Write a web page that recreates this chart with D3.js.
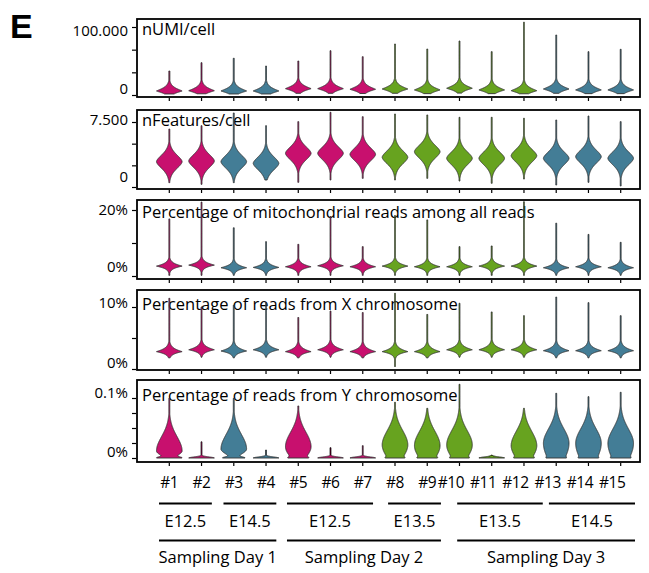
<!DOCTYPE html>
<html>
<head>
<meta charset="utf-8">
<script src="https://cdn.jsdelivr.net/npm/d3@7"></script>
<style>
  body { margin: 0; background: #fff; }
  svg { display: block; }
  text { font-family: "Open Sans", "Noto Sans", sans-serif; fill: #000; }
</style>
</head>
<body>
<svg id="chart" width="649" height="573"></svg>
<script>
// ---- samples and groupings ----
const samples = ["#1","#2","#3","#4","#5","#6","#7","#8","#9","#10","#11","#12","#13","#14","#15"];
const stages  = ["E12.5","E12.5","E14.5","E14.5","E12.5","E12.5","E12.5","E13.5","E13.5","E13.5","E13.5","E13.5","E14.5","E14.5","E14.5"];
const stageColors = { "E12.5": "#c8106e", "E13.5": "#67a31f", "E14.5": "#437d96" };
const stageGroups = [["E12.5", 0, 1], ["E14.5", 2, 3], ["E12.5", 4, 6], ["E13.5", 7, 8], ["E13.5", 9, 11], ["E14.5", 12, 14]];
const dayGroups   = [["Sampling Day 1", 0, 3], ["Sampling Day 2", 4, 8], ["Sampling Day 3", 9, 14]];

// ---- nUMI per cell ----
const umiMode = [5900, 6300, 5900, 5900, 9300, 9300, 8400, 8800, 7400, 9900, 7400, 6300, 8800, 7400, 7400];
const umiMax  = [35300, 47500, 54000, 42600, 50000, 65100, 56300, 75000, 67600, 79400, 63700, 107000, 88200, 63700, 67200];
const umiMin  = [1500, 1800, 1500, 1500, 2500, 2500, 2200, 2500, 2000, 2800, 2000, 1800, 2500, 2000, 2000];

// ---- nFeatures per cell ----
const featMode = [2920, 3000, 2920, 2730, 3890, 3890, 3770, 3430, 4070, 3310, 3310, 3610, 3310, 3500, 3310];
const featMax  = [6690, 7070, 8540, 7070, 7540, 8620, 8110, 8420, 8310, 8040, 8040, 7930, 7730, 8190, 7540];
const featMin  = [500, 310, 500, 810, 540, 810, 1000, 810, 1000, 690, 430, 920, 230, 540, 120];

// ---- mitochondrial reads (%) ----
const mitoMode = [3.0, 3.3, 2.5, 2.6, 2.8, 3.1, 2.8, 3.0, 2.8, 2.8, 3.0, 3.0, 2.5, 2.8, 2.5];
const mitoMax  = [17.3, 22.4, 14.6, 10.4, 9.6, 18.0, 8.9, 18.3, 17.0, 8.9, 9.1, 22.5, 16.0, 12.6, 10.2];
const mitoMin  = [0.2, 0.2, 0.2, 0.2, 0.2, 0.2, 0.2, 0.2, 0.2, 0.2, 0.2, 0.2, 0.2, 0.2, 0.2];

// ---- X chromosome reads (%) ----
const xMode = [2.8, 3.1, 2.9, 3.1, 2.8, 3.1, 2.8, 2.8, 2.8, 3.1, 3.1, 3.1, 2.95, 2.95, 2.95];
const xMax  = [11.4, 10.0, 10.3, 10.6, 8.3, 9.35, 9.1, 12.2, 8.8, 10.6, 9.2, 8.6, 11.6, 10.7, 8.6];
const xMin  = [1.8, 1.9, 1.8, 1.9, 1.8, 1.9, 1.8, 0.4, 1.8, 1.9, 1.9, 1.9, 1.8, 1.8, 1.8];

// ---- Y chromosome reads (%) ----
const yMode      = [0.0117, 0, 0.015, 0, 0.0188, 0, 0, 0.0217, 0.0205, 0.0217, 0, 0.0205, 0.0245, 0.0245, 0.0245];
const yMax       = [0.0995, 0.027, 0.0995, 0.0133, 0.0867, 0.0172, 0.0205, 0.0928, 0.0828, 0.1228, 0.005, 0.0828, 0.1078, 0.1022, 0.1095];
const yZeroShare = [0.4, 1, 0.4, 1, 0.2, 1, 1, 0.15, 0.15, 0.15, 1, 0.15, 0.1, 0.1, 0.1];
const yLowSpread = [0.011, 0, 0.012, 0, 0.025, 0, 0, 0.03, 0.03, 0.03, 0, 0.03, 0.04, 0.04, 0.04];

// ---- formatting ----
const deLocale = d3.formatLocale({ decimal: ",", thousands: ".", grouping: [3], currency: ["", ""] });
const fmtInt = deLocale.format(",");
const fmtPct = v => (v === 0 ? "0" : String(+v.toFixed(3))) + "%";

const kernel = (x, p) => Math.exp(-Math.pow(Math.abs(x), p));

const panels = [
  { title: "nUMI/cell", mode: umiMode, max: umiMax, min: umiMin, top: 100000,
    ticks: [0, 100000 / 3, 200000 / 3, 100000], fmt: fmtInt,
    shape: { p: 1.2, up: 5900, down: 4400 } },
  { title: "nFeatures/cell", mode: featMode, max: featMax, min: featMin, top: 7500,
    ticks: [0, 2500, 5000, 7500], fmt: fmtInt,
    shape: { p: 1.7, up: 1150, down: 1150 } },
  { title: "Percentage of mitochondrial reads among all reads", mode: mitoMode, max: mitoMax, min: mitoMin, top: 20,
    ticks: [0, 10, 20], fmt: fmtPct,
    shape: { p: 1.1, up: 0.9, down: 0.75 } },
  { title: "Percentage of reads from X chromosome", mode: xMode, max: xMax, min: xMin, top: 10,
    ticks: [0, 5, 10], fmt: fmtPct,
    shape: { p: 1.1, up: 0.56, down: 0.4 } },
  { title: "Percentage of reads from Y chromosome", mode: yMode, max: yMax, min: samples.map(() => 0), top: 0.1,
    ticks: [0, 0.025, 0.05, 0.075, 0.1], fmt: fmtPct,
    shape: { p: 2, up: 0.034, spike: 0.0025 }, zero: yZeroShare, low: yLowSpread }
];

// ---- layout ----
const svg = d3.select("#chart");
const frameLeft = 137, frameRight = 640;
const boxes = [[19, 78], [110, 79], [200, 79], [290, 80], [380, 82]];      // top, height
const yRanges = [[95, 27], [187, 122], [276, 210], [369, 307], [458, 398]]; // px of 0 and of top value
const labelShift = [[3.5, -6], [-2, -10], [0, -9], [-4, -6], [-5, -6]];     // [top label, zero label] vertical nudges
const titleDy = [16, 16, 18, 20, 21];
const halfWidth = 12.8;
// horizontal nudges [left end, right end] for the bracket rows
const stageNudge = [[0, 0], [0, 0], [-1, 0], [3.4, 3.4], [8, 8.5], [3, 4]];
const dayNudge   = [[0, 0], [-1, 3.4], [8, 4]];

const x = d3.scalePoint().domain(samples).range([169.3, 620.7]);

// panel letter
svg.append("text").attr("x", 10).attr("y", 38)
  .style("font-family", "'Liberation Sans', Arial, sans-serif")
  .style("font-weight", "bold").style("font-size", "34px").text("E");

panels.forEach((pn, pi) => {
  const [top, h] = boxes[pi];
  const bottom = top + h;
  const y = d3.scaleLinear().domain([0, pn.top]).range(yRanges[pi]);
  const g = svg.append("g");

  // title
  g.append("text").attr("x", frameLeft + 5).attr("y", top + titleDy[pi])
    .style("font-size", "16.5px").text(pn.title);

  // violins
  samples.forEach((s, i) => {
    const mode = pn.mode[i], lo = pn.min[i], hi = pn.max[i];
    let dens;
    if (pn.zero) {
      const z = pn.zero[i], lowS = pn.low[i] || 1e-9;
      dens = v => (1 - z) * kernel((v - mode) / (v > mode ? pn.shape.up : lowS), pn.shape.p)
                + z * Math.exp(-Math.pow(v / pn.shape.spike, 2));
    } else {
      dens = v => kernel((v - mode) / (v > mode ? pn.shape.up : pn.shape.down), pn.shape.p);
    }
    const vs = d3.range(0, 401).map(k => lo + (hi - lo) * k / 400);
    if (mode > lo && mode < hi) vs.push(mode);
    vs.sort((a, b) => a - b);
    const pts = vs.map(v => ({ v, d: dens(v) }));
    const m = d3.max(pts, d => d.d);
    const cx = x(s);
    const w = d => Math.max(0.45, halfWidth * d.d / m);
    const area = d3.area()
      .y(d => y(d.v))
      .x0(d => cx - w(d))
      .x1(d => cx + w(d));
    g.append("path").attr("d", area(pts))
      .attr("fill", stageColors[stages[i]])
      .attr("stroke", "#333").attr("stroke-width", 0.9)
      .attr("stroke-linejoin", "round");
  });

  // frame
  g.append("rect").attr("x", frameLeft).attr("y", top)
    .attr("width", frameRight - frameLeft).attr("height", h)
    .attr("fill", "none").attr("stroke", "#000").attr("stroke-width", 1.8);

  // y axis
  const yAxis = d3.axisLeft(y).tickValues(pn.ticks).tickSize(4).tickPadding(4)
    .tickFormat(v => (v === 0 || v === pn.top) ? pn.fmt(v) : "");
  const ga = g.append("g").attr("transform", `translate(${frameLeft - 1},0)`).call(yAxis);
  ga.select(".domain").remove();
  ga.selectAll(".tick line").attr("stroke", "#000").attr("stroke-width", 1.2);
  ga.selectAll(".tick text")
    .style("font-size", "15px").style("font-family", "'Open Sans', sans-serif").attr("fill", "#000")
    .attr("y", v => v === 0 ? labelShift[pi][1] : labelShift[pi][0]);

  // x ticks
  g.selectAll(".xt").data(samples).join("line")
    .attr("x1", d => x(d)).attr("x2", d => x(d))
    .attr("y1", bottom + 1).attr("y2", bottom + 4)
    .attr("stroke", "#000").attr("stroke-width", 1.2);
});

// ---- sample labels ----
svg.selectAll(".sl").data(samples).join("text")
  .attr("x", d => x(d) + (d.length > 2 ? -8.5 : 0)).attr("y", 488)
  .attr("text-anchor", "middle").style("font-size", "15.5px")
  .style("letter-spacing", "-0.4px").text(d => d);

// ---- stage brackets ----
const pad = 10.3;
const segX0 = (g, i, nudge) => x(samples[g[1]]) - pad + nudge[i][0];
const segX1 = (g, i, nudge) => x(samples[g[2]]) + pad + nudge[i][1];
svg.selectAll(".stl").data(stageGroups).join("line")
  .attr("x1", (g, i) => segX0(g, i, stageNudge)).attr("x2", (g, i) => segX1(g, i, stageNudge))
  .attr("y1", 503.5).attr("y2", 503.5)
  .attr("stroke", "#000").attr("stroke-width", 2.2);
svg.selectAll(".stt").data(stageGroups).join("text")
  .attr("x", (g, i) => (segX0(g, i, stageNudge) + segX1(g, i, stageNudge)) / 2).attr("y", 527)
  .attr("text-anchor", "middle").style("font-size", "16.5px").text(g => g[0]);

// ---- sampling day brackets ----
svg.selectAll(".dl").data(dayGroups).join("line")
  .attr("x1", (g, i) => segX0(g, i, dayNudge)).attr("x2", (g, i) => segX1(g, i, dayNudge))
  .attr("y1", 540.5).attr("y2", 540.5)
  .attr("stroke", "#000").attr("stroke-width", 2.2);
svg.selectAll(".dt").data(dayGroups).join("text")
  .attr("x", (g, i) => (segX0(g, i, dayNudge) + segX1(g, i, dayNudge)) / 2).attr("y", 563)
  .attr("text-anchor", "middle").style("font-size", "16.5px").text(g => g[0]);
</script>
</body>
</html>
